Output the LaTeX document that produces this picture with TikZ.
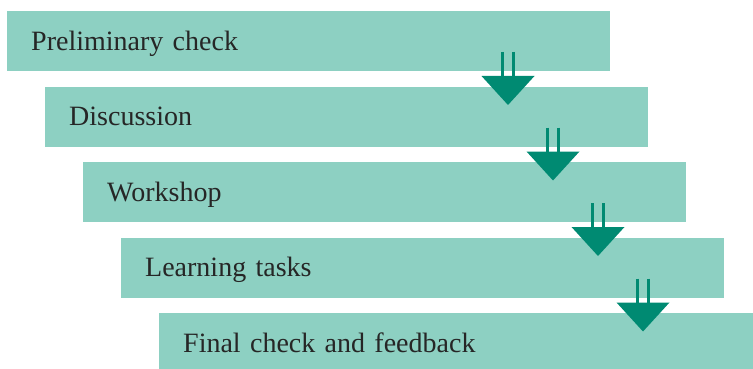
\documentclass[tikz,border=0pt]{standalone}
\usepackage{fontspec}
\setmainfont{Liberation Serif}
\usepackage{tikz}

\definecolor{boxteal}{HTML}{8DD0C2}
\definecolor{arrowteal}{HTML}{008A72}
\definecolor{textgray}{HTML}{262626}

\tikzset{
  stage/.style={rectangle, fill=boxteal, anchor=north west,
    minimum width=603pt, minimum height=60pt, text width=555pt,
    text height=22pt, text depth=4pt,
    inner xsep=24pt, inner ysep=0pt, align=left, text=textgray,
    font=\fontsize{28}{30}\selectfont},
  pics/downarrow/.style={code={
    \draw[arrowteal, line width=2.5pt] (-5.5,0) -- (-5.5,-26) (5.5,0) -- (5.5,-26);
    \fill[arrowteal] (-26.5,-24) -- (26.5,-24) -- (0,-53) -- cycle;
  }}
}

\begin{document}
\begin{tikzpicture}[x=1pt, y=1pt]
        \useasboundingbox (0,0) rectangle (753,-369);
        \clip (0,0) rectangle (753,-369);

        % Stages
        \node[stage] (check) at (7,-11) {Preliminary check};
        \node[stage] (discussion) at (45,-86.5) {Discussion};
        \node[stage] (workshop) at (83,-162) {Workshop};
        \node[stage] (tasks) at (121,-237.5) {Learning tasks};
        \node[stage] (final) at (159,-313) {Final check and feedback};

        % Arrows
        \pic at (508,-52) {downarrow};
        \pic at (553,-127.5) {downarrow};
        \pic at (598,-203) {downarrow};
        \pic at (643,-278.5) {downarrow};
    \end{tikzpicture}
\end{document}
